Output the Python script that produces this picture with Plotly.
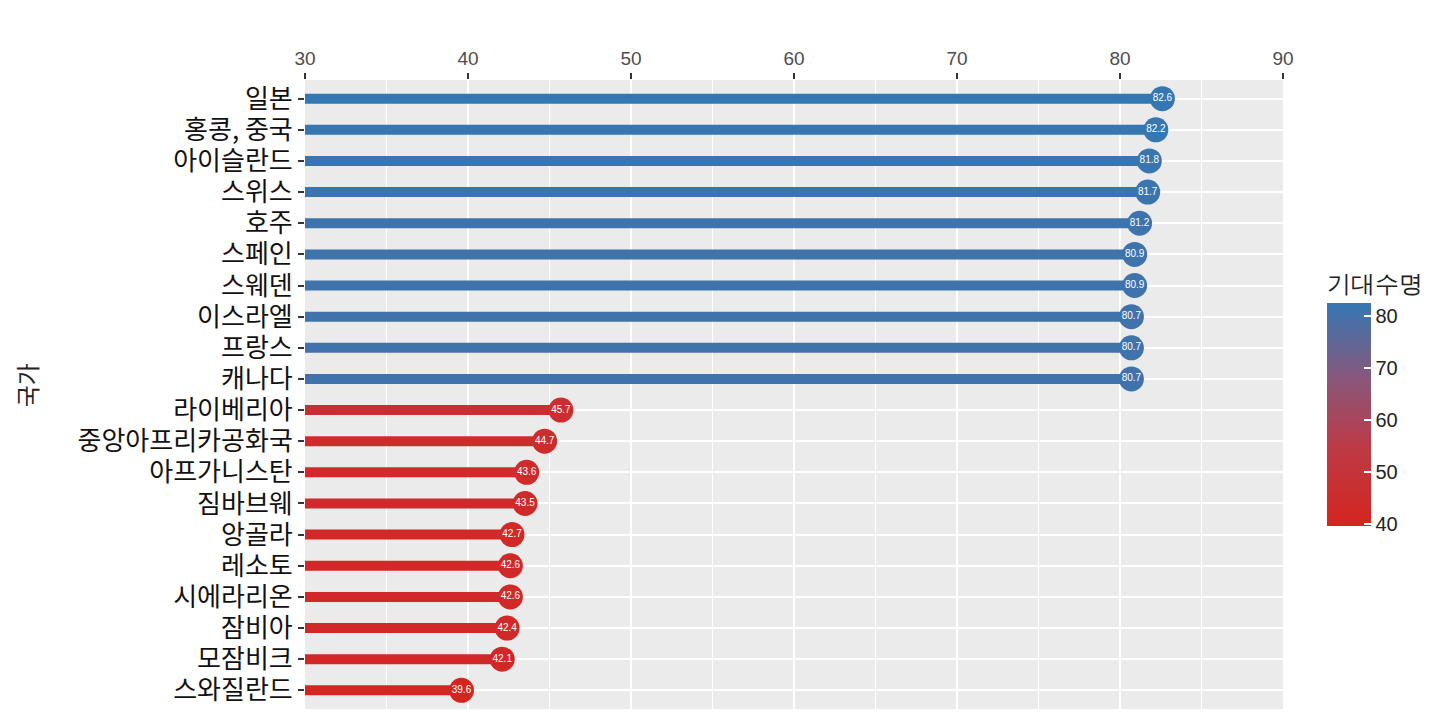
import plotly.graph_objects as go
from plotly.colors import sample_colorscale

# 기대수명 상위/하위 10개국
countries = ["일본", "홍콩, 중국", "아이슬란드", "스위스", "호주", "스페인", "스웨덴",
             "이스라엘", "프랑스", "캐나다", "라이베리아", "중앙아프리카공화국",
             "아프가니스탄", "짐바브웨", "앙골라", "레소토", "시에라리온", "잠비아",
             "모잠비크", "스와질란드"]
life_exp = [82.6, 82.2, 81.8, 81.7, 81.2, 80.9, 80.9, 80.7, 80.7, 80.7,
            45.7, 44.7, 43.6, 43.5, 42.7, 42.6, 42.6, 42.4, 42.1, 39.6]
x_ticks = [30, 40, 50, 60, 70, 80, 90]
cbar_ticks = [40, 50, 60, 70, 80]

cscale = [[0.0, "#D52521"], [0.35, "#BD3A45"], [0.65, "#8B5679"], [1.0, "#3577B3"]]
vmin, vmax = min(life_exp), max(life_exp)
cols = sample_colorscale(cscale, [(v - vmin) / (vmax - vmin) for v in life_exp])

fig = go.Figure()

# stems
for c, v, col in zip(countries, life_exp, cols):
    fig.add_trace(go.Scatter(x=[x_ticks[0], v], y=[c, c], mode="lines",
                             line=dict(color=col, width=10),
                             showlegend=False, hoverinfo="skip"))

# heads + labels
fig.add_trace(go.Scatter(
    x=life_exp, y=countries, mode="markers+text",
    text=[f"{v:.1f}" for v in life_exp], textposition="middle center",
    textfont=dict(color="white", size=10, family="Liberation Sans"),
    marker=dict(size=25, color=life_exp, colorscale=cscale, cmin=vmin, cmax=vmax,
                line=dict(width=0),
                colorbar=dict(title=dict(text="기대수명", side="top",
                                         font=dict(size=24, color="#222")),
                              tickvals=cbar_ticks, ticks="inside", tickcolor="white",
                              ticklen=7, tickwidth=1.5,
                              tickfont=dict(size=20, color="#222", family="Liberation Sans"),
                              thickness=44, len=255, lenmode="pixels",
                              x=1.045, xanchor="left", xpad=0,
                              y=0.291, yanchor="bottom", ypad=0,
                              outlinewidth=0)),
    showlegend=False))

fig.update_layout(
    width=1440, height=720,
    margin=dict(l=297, r=165, t=72, b=19),
    plot_bgcolor="#EBEBEB", paper_bgcolor="white",
    font=dict(family="Noto Sans CJK KR", color="#111"),
    annotations=[dict(text="국가", x=-0.285, y=0.515, xref="paper", yref="paper",
                      xanchor="center", yanchor="middle",
                      textangle=-90, showarrow=False, font=dict(size=24, color="#222"))],
)
fig.update_xaxes(side="top", range=[30, 90], tickvals=x_ticks,
                 tickfont=dict(size=19, color="#4D4D4D", family="Liberation Sans"),
                 ticks="outside", ticklen=6, tickwidth=2, tickcolor="#333",
                 showgrid=True, gridcolor="white", gridwidth=2.2,
                 minor=dict(dtick=5, showgrid=True, gridcolor="white", gridwidth=1),
                 zeroline=False, showline=False)
fig.update_yaxes(type="category", categoryorder="array", categoryarray=countries,
                 range=[len(countries) - 0.4, -0.6],
                 tickfont=dict(size=26, color="#111"),
                 ticks="outside", ticklen=6, tickwidth=2, tickcolor="#333",
                 showgrid=True, gridcolor="white", gridwidth=2.2,
                 zeroline=False, showline=False)

fig.write_html("out.html")
